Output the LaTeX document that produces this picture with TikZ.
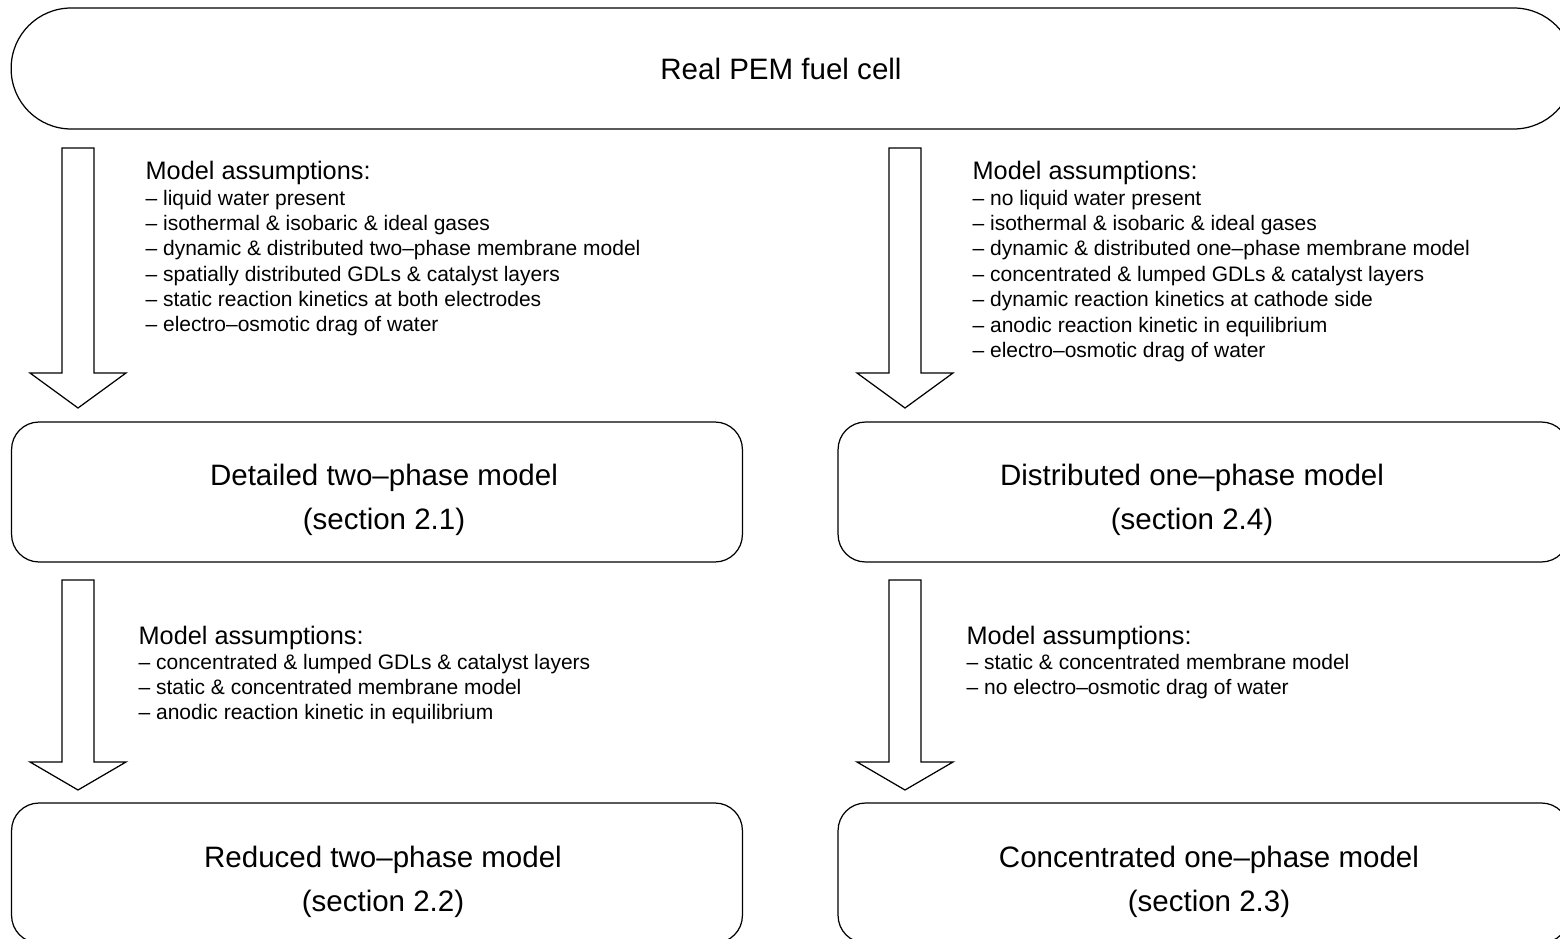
\documentclass[tikz,border=0pt]{standalone}
\usepackage{fontspec}
\setmainfont{Liberation Sans}
\usepackage{tikz}

% hollow block arrow: x, top, head base, tip
\newcommand{\fatarrow}[4]{%
  \draw (#1-16,#2) -- (#1+16,#2) -- (#1+16,#3) -- (#1+48,#3) -- (#1,#4) -- (#1-48,#3) -- (#1-16,#3) -- cycle;}

\begin{document}
\begin{tikzpicture}[x=0.02cm,y=-0.02cm,line width=0.7pt,
  model/.style={draw,rounded corners=0.55cm,minimum width=14.62cm,minimum height=2.8cm},
  modeltext/.style={align=center,inner sep=0pt,font=\fontsize{16.8}{25}\selectfont},
  asmhead/.style={anchor=base west,inner sep=0pt,font=\fontsize{14.4}{17}\selectfont},
  asmlist/.style={anchor=base west,inner sep=0pt,align=left,font=\fontsize{11.95}{14.45}\selectfont}]
\useasboundingbox (0,0) rectangle (1560,939);

\node [model,minimum width=31.26cm,minimum height=2.42cm,rounded corners=1.2cm] (pem) at (792.5,68.5){};
\node [modeltext] (tpem) at (781,68.5){Real PEM fuel cell};

\node [model] (detailed) at (377,492){};
\node [model] (distributed) at (1203.5,492){};
\node [model] (reduced) at (377,873){};
\node [model] (concentrated) at (1203.5,873){};

\node [modeltext] (tdetailed) at (384,500){Detailed two–phase model\\(section 2.1)};
\node [modeltext] (tdistributed) at (1192,500){Distributed one–phase model\\(section 2.4)};
\node [modeltext] (treduced) at (383,881.5){Reduced two–phase model\\(section 2.2)};
\node [modeltext] (tconcentrated) at (1209,881.5){Concentrated one–phase model\\(section 2.3)};

\fatarrow{78}{148}{373}{408}
\fatarrow{905}{148}{373}{408}
\fatarrow{78}{580}{762}{790}
\fatarrow{905}{580}{762}{790}

%\node [asmlist] anchors at the baseline of the last line
\node [asmhead] (hdetailed) at (145,180){Model assumptions:};
\node [asmlist] (adetailed) at (145,332){– liquid water present\\
– isothermal \& isobaric \& ideal gases\\
– dynamic \& distributed two–phase membrane model\\
– spatially distributed GDLs \& catalyst layers\\
– static reaction kinetics at both electrodes\\
– electro–osmotic drag of water};

\node [asmhead] (hdistributed) at (972,180){Model assumptions:};
\node [asmlist] (adistributed) at (972,357.4){– no liquid water present\\
– isothermal \& isobaric \& ideal gases\\
– dynamic \& distributed one–phase membrane model\\
– concentrated \& lumped GDLs \& catalyst layers\\
– dynamic reaction kinetics at cathode side\\
– anodic reaction kinetic in equilibrium\\
– electro–osmotic drag of water};

\node [asmhead] (hreduced) at (138,644){Model assumptions:};
\node [asmlist] (areduced) at (138,719.8){– concentrated \& lumped GDLs \& catalyst layers\\
– static \& concentrated membrane model\\
– anodic reaction kinetic in equilibrium};

\node [asmhead] (hconcentrated) at (966,644){Model assumptions:};
\node [asmlist] (aconcentrated) at (966,694.4){– static \& concentrated membrane model\\
– no electro–osmotic drag of water};

\end{tikzpicture}
\end{document}
